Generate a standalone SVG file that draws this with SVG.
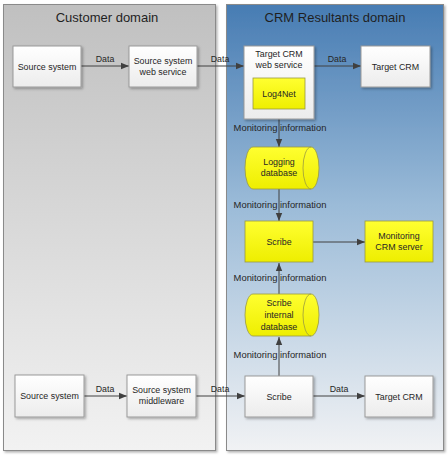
<svg xmlns="http://www.w3.org/2000/svg" width="448" height="455" viewBox="0 0 448 455">
<style>
text{font-family:"Liberation Sans",Arial,sans-serif;fill:#262626;text-anchor:middle}
.title{font-size:13px;fill:#1f1f1f}
.lbl{font-size:8.9px}
.cl{font-size:8.8px}
.mi{font-size:9.4px}
.box{fill:url(#gw);stroke:#9a9a9a;stroke-width:1}
.ybox{fill:url(#gy);stroke:#9a9a40;stroke-width:0.8}
.con{stroke:#404040;stroke-width:1;fill:none;marker-end:url(#ah)}
.panel{stroke:#8a8a8a;stroke-width:1}
</style>
<defs>
<linearGradient id="gc" x1="0" y1="0" x2="0" y2="1"><stop offset="0" stop-color="#c0c0c0"/><stop offset="1" stop-color="#f2f2f2"/></linearGradient>
<linearGradient id="gb" x1="0" y1="0" x2="0" y2="1"><stop offset="0" stop-color="#477cb3"/><stop offset="0.45" stop-color="#9bbbd8"/><stop offset="1" stop-color="#f1f2f4"/></linearGradient>
<linearGradient id="gw" x1="0" y1="0" x2="0" y2="1"><stop offset="0" stop-color="#ffffff"/><stop offset="1" stop-color="#ececec"/></linearGradient>
<linearGradient id="gy" x1="0" y1="0" x2="0" y2="1"><stop offset="0" stop-color="#ffff30"/><stop offset="1" stop-color="#eeee00"/></linearGradient>
<filter id="sh" x="-10%" y="-10%" width="130%" height="130%"><feDropShadow dx="1.5" dy="1.5" stdDeviation="1" flood-color="#000" flood-opacity="0.3"/></filter>
<marker id="ah" viewBox="0 0 10 10" refX="10" refY="5" markerWidth="8" markerHeight="8" markerUnits="userSpaceOnUse" orient="auto"><path d="M0,1 L10,5 L0,9 Z" fill="#404040"/></marker>
</defs>

<g id="customer-domain">
<rect class="panel" x="3.5" y="4.5" width="212" height="446" fill="url(#gc)" filter="url(#sh)"/>
<text class="title" x="107" y="22">Customer domain</text>
</g>
<g id="crm-domain">
<rect class="panel" x="226.5" y="4.5" width="217" height="446" fill="url(#gb)" filter="url(#sh)"/>
<text class="title" x="335" y="22">CRM Resultants domain</text>
</g>

<g id="connectors">
<line class="con" x1="81" y1="66" x2="129" y2="66"/>
<text class="cl" x="105" y="62">Data</text>
<line class="con" x1="197" y1="66" x2="244" y2="66"/>
<text class="cl" x="220" y="62">Data</text>
<line class="con" x1="314" y1="66" x2="361" y2="66"/>
<text class="cl" x="337" y="62">Data</text>
<line class="con" x1="279" y1="109" x2="279" y2="147"/>
<text class="mi" x="280" y="131">Monitoring information</text>
<line class="con" x1="279" y1="189" x2="279" y2="221"/>
<text class="mi" x="280" y="208">Monitoring information</text>
<line class="con" x1="313" y1="242" x2="365" y2="242"/>
<line class="con" x1="279" y1="294" x2="279" y2="263"/>
<text class="mi" x="280" y="281">Monitoring information</text>
<line class="con" x1="279" y1="376" x2="279" y2="337"/>
<text class="mi" x="280" y="358">Monitoring information</text>
<line class="con" x1="84" y1="396" x2="127" y2="396"/>
<text class="cl" x="105" y="392">Data</text>
<line class="con" x1="196" y1="396" x2="245" y2="396"/>
<text class="cl" x="220" y="392">Data</text>
<line class="con" x1="313" y1="396" x2="365" y2="396"/>
<text class="cl" x="339" y="392">Data</text>
</g>

<g id="source-system-1">
<rect class="box" x="13" y="46" width="68" height="41" filter="url(#sh)"/>
<text class="lbl" x="47" y="69.5">Source system</text>
</g>
<g id="source-system-web-service">
<rect class="box" x="129" y="46" width="68" height="41" filter="url(#sh)"/>
<text class="lbl" x="163" y="64">Source system</text>
<text class="lbl" x="163" y="75">web service</text>
</g>
<g id="target-crm-web-service">
<rect class="box" x="244" y="46" width="70" height="73" filter="url(#sh)"/>
<text class="lbl" x="279" y="57">Target CRM</text>
<text class="lbl" x="279" y="68">web service</text>
</g>
<g id="log4net">
<rect class="ybox" x="253" y="78" width="52" height="31"/>
<text class="lbl" x="279" y="96.5">Log4Net</text>
</g>
<g id="target-crm-1">
<rect class="box" x="361" y="46" width="69" height="41" filter="url(#sh)"/>
<text class="lbl" x="395.5" y="69.5">Target CRM</text>
</g>
<g id="logging-database">
<path class="ybox" d="M253,147 L311,147 A8,21 0 0 1 311,189 L253,189 A8,21 0 0 1 253,147 Z"/>
<path d="M311,147 A8,21 0 0 0 311,189" fill="none" stroke="#9a9a40" stroke-width="0.8"/>
<text class="lbl" x="279" y="165">Logging</text>
<text class="lbl" x="279" y="176">database</text>
</g>
<g id="scribe-top">
<rect class="ybox" x="245" y="221" width="68" height="41"/>
<text class="lbl" x="279" y="244.5">Scribe</text>
</g>
<g id="monitoring-crm-server">
<rect class="ybox" x="365" y="221" width="68" height="41"/>
<text class="lbl" x="399" y="239">Monitoring</text>
<text class="lbl" x="399" y="250">CRM server</text>
</g>
<g id="scribe-internal-database">
<path class="ybox" d="M253,294 L311,294 A8,21 0 0 1 311,336 L253,336 A8,21 0 0 1 253,294 Z"/>
<path d="M311,294 A8,21 0 0 0 311,336" fill="none" stroke="#9a9a40" stroke-width="0.8"/>
<text class="lbl" x="279" y="306">Scribe</text>
<text class="lbl" x="279" y="318">internal</text>
<text class="lbl" x="279" y="330">database</text>
</g>
<g id="source-system-2">
<rect class="box" x="15" y="375" width="69" height="42" filter="url(#sh)"/>
<text class="lbl" x="49.5" y="399">Source system</text>
</g>
<g id="source-system-middleware">
<rect class="box" x="127" y="375" width="69" height="42" filter="url(#sh)"/>
<text class="lbl" x="161.5" y="393">Source system</text>
<text class="lbl" x="161.5" y="404">middleware</text>
</g>
<g id="scribe-bottom">
<rect class="box" x="245" y="376" width="68" height="41" filter="url(#sh)"/>
<text class="lbl" x="279" y="399.5">Scribe</text>
</g>
<g id="target-crm-2">
<rect class="box" x="365" y="376" width="68" height="41" filter="url(#sh)"/>
<text class="lbl" x="399" y="399.5">Target CRM</text>
</g>
</svg>
